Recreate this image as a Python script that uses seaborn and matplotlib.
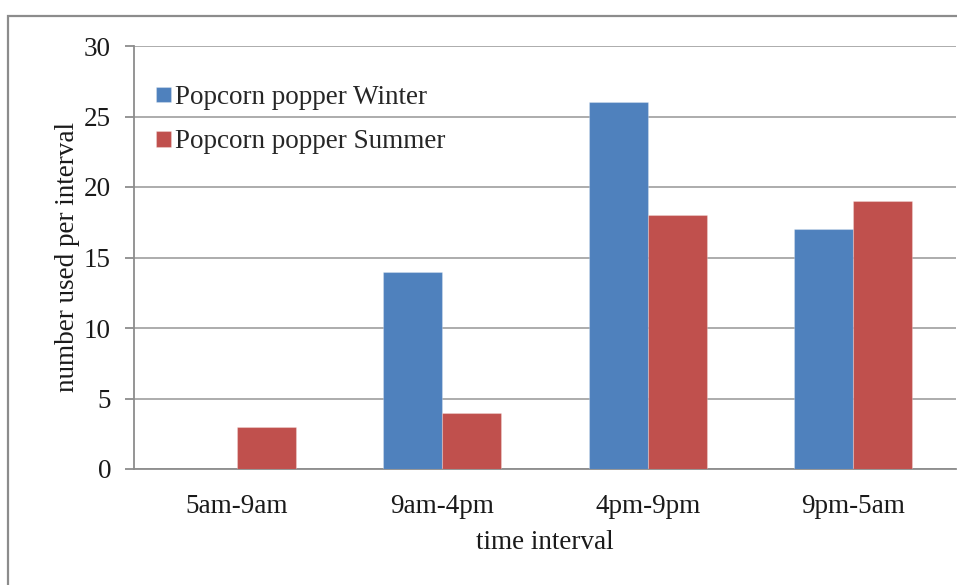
import matplotlib
matplotlib.use("Agg")
import matplotlib.pyplot as plt
from matplotlib.patches import Rectangle
import seaborn as sns
import pandas as pd

# Popcorn popper usage per time interval, by season
intervals = ["5am-9am", "9am-4pm", "4pm-9pm", "9pm-5am"]
winter = [0, 14, 26, 17]
summer = [3, 4, 18, 19]
series_names = ["Popcorn popper Winter", "Popcorn popper Summer"]
series_colors = ["#4F81BD", "#C0504D"]
y_ticks = [0, 5, 10, 15, 20, 25, 30]

df = pd.DataFrame({
    "interval": intervals * 2,
    "count": winter + summer,
    "series": [series_names[0]] * len(intervals) + [series_names[1]] * len(intervals),
})

sns.set_theme(style="white")
plt.rcParams["font.family"] = ["Liberation Serif", "DejaVu Serif"]

FS = 19.5
W, H = 957, 585
fig = plt.figure(figsize=(W / 100, H / 100), dpi=100)
ax = fig.add_axes([134 / W, 1 - 469 / H, (956 - 134) / W, (469 - 46) / H])

sns.barplot(data=df, x="interval", y="count", hue="series",
            palette=series_colors, saturation=1, width=0.573, gap=0,
            edgecolor="none", linewidth=0, ax=ax, zorder=3)

# thin lighter outline like the original fills
for p in ax.patches:
    p.set_edgecolor((1, 1, 1, 0.25))
    p.set_linewidth(0.8)

ax.set_ylim(0, 30)
ax.set_yticks(y_ticks)
ax.set_xlim(-0.5, 3.5)
ax.yaxis.grid(True, color="#A6A6A6", linewidth=1.3, zorder=0)
ax.xaxis.grid(False)

for side in ["top", "right"]:
    ax.spines[side].set_visible(False)
for side in ["left", "bottom"]:
    ax.spines[side].set_color("#8C8C8C")
    ax.spines[side].set_linewidth(1.3)

ax.tick_params(axis="y", length=6.5, width=1.3, color="#8C8C8C",
               labelsize=FS, pad=10, left=True, direction="out")
ax.tick_params(axis="x", length=0, labelsize=FS, pad=18)
for lab in ax.get_xticklabels() + ax.get_yticklabels():
    lab.set_color("#1a1a1a")

ax.set_xlabel("time interval", fontsize=FS, color="#1a1a1a", labelpad=8)
ax.set_ylabel("number used per interval", fontsize=FS, color="#1a1a1a", labelpad=3)

handles, labels = ax.get_legend_handles_labels()
ax.legend(handles, labels, loc="upper left",
          bbox_to_anchor=((156 - 134) / (956 - 134), (469 - 85) / (469 - 46)),
          frameon=False, fontsize=FS, handlelength=0.55, handleheight=0.5,
          handletextpad=0.15, labelspacing=0.72, borderpad=0, borderaxespad=0)

# outer chart border (runs past the right and bottom edges)
fig.patches.append(Rectangle((8 / W, -0.1), 1.2, 1 - 16 / H + 0.1,
                             transform=fig.transFigure, fill=False,
                             edgecolor="#8C8C8C", linewidth=1.6, zorder=10))

fig.savefig("out.png", dpi=100)
